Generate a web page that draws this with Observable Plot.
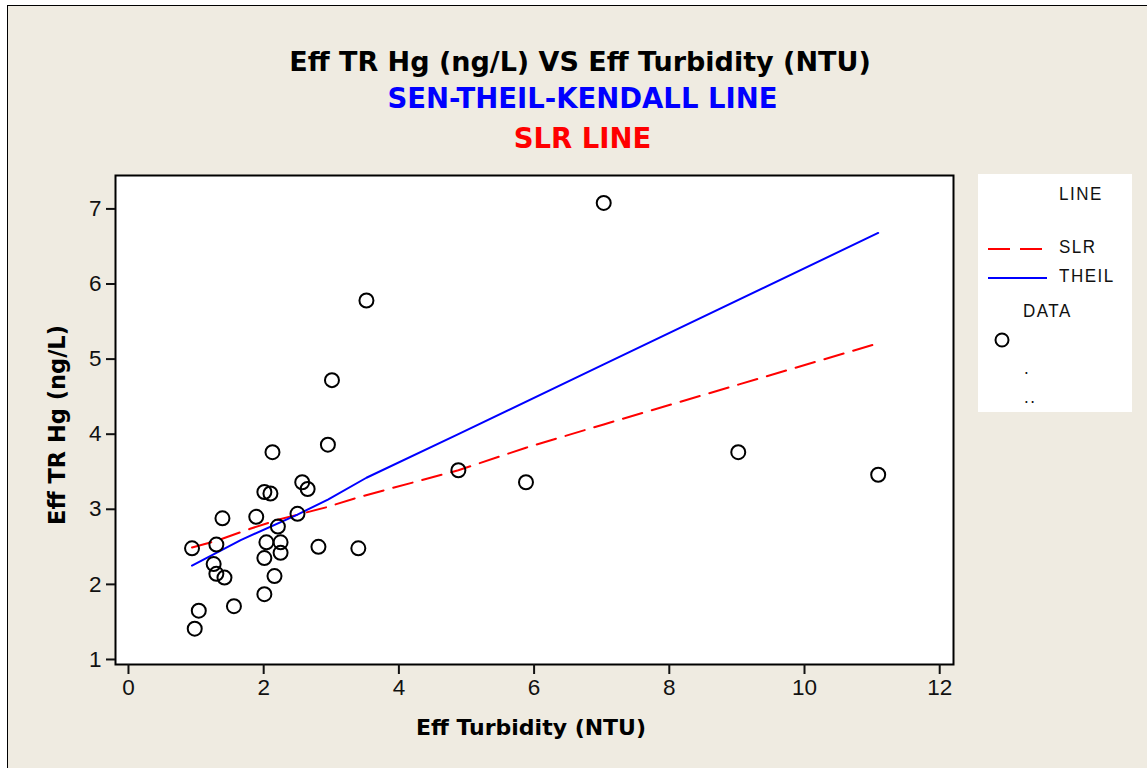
<!DOCTYPE html>
<html>
<head>
<meta charset="utf-8">
<script src="https://cdn.jsdelivr.net/npm/d3@7"></script>
<script src="https://cdn.jsdelivr.net/npm/@observablehq/plot@0.6"></script>
<style>
  html, body { margin: 0; padding: 0; background: #ffffff; }
  #wrap { position: relative; width: 1147px; height: 768px; overflow: hidden; }
  #bg { position: absolute; left: 7px; top: 5px; width: 1160px; height: 790px; background: #efebe1; border: 1.5px solid #000; }
  #chart { position: absolute; left: 0; top: 0; }
  #chart svg text { font-size: 22.5px; }
  .t { position: absolute; font-family: "DejaVu Sans", sans-serif; font-weight: bold; white-space: nowrap; text-align: center; line-height: 1; }
  #legend { position: absolute; left: 978px; top: 174px; width: 154px; height: 238px; background: #fff; font-family: "Liberation Sans", sans-serif; font-size: 17px; letter-spacing: 1.5px; color: #111; }
  #legend div { position: absolute; white-space: nowrap; transform: scaleY(1.1); transform-origin: left center; }
  #legend svg { position: absolute; overflow: visible; }
</style>
</head>
<body>
<div id="wrap">
  <div id="bg"></div>
  <div id="chart"></div>
  <div class="t" id="t1" style="left:0;width:1160px;top:48px;font-size:27px;color:#000;">Eff TR Hg (ng/L) VS Eff Turbidity (NTU)</div>
  <div class="t" id="t2" style="left:0;width:1165px;top:85px;font-size:27.5px;color:#0000ff;">SEN-THEIL-KENDALL LINE</div>
  <div class="t" id="t3" style="left:0;width:1165px;top:125px;font-size:27.5px;color:#ff0000;">SLR LINE</div>
  <div class="t" id="xl" style="left:0;width:1062px;top:717px;font-size:22px;color:#000;">Eff Turbidity (NTU)</div>
  <div class="t" id="yl" style="left:57px;top:425px;font-size:22.5px;color:#000;transform:translate(-50%,-50%) rotate(-90deg);">Eff TR Hg (ng/L)</div>
  <div id="legend"></div>
</div>
<script>
// Data points (Eff Turbidity NTU, Eff TR Hg ng/L)
const turbidity = [2.13, 2.95, 2.57, 2.65, 2.01, 2.10, 1.39, 1.89, 2.50, 2.21, 0.94, 1.30, 2.04, 2.25, 2.25, 2.81, 3.40, 2.01, 1.26, 1.30, 1.42, 2.16, 2.01, 1.56, 1.04, 0.98, 3.52, 3.01, 4.88, 5.88, 7.03, 9.02, 11.09];
const hg        = [3.76, 3.86, 3.36, 3.27, 3.23, 3.21, 2.88, 2.90, 2.94, 2.77, 2.48, 2.53, 2.56, 2.56, 2.42, 2.50, 2.48, 2.35, 2.27, 2.14, 2.09, 2.11, 1.87, 1.71, 1.65, 1.41, 5.78, 4.72, 3.52, 3.36, 7.08, 3.76, 3.46];

// Fitted lines as drawn
const theilX = [0.94, 1.66, 2.50, 2.95, 3.52, 4.88, 7.03, 11.09];
const theilY = [2.25, 2.59, 2.93, 3.13, 3.42, 4.00, 4.93, 6.68];
const slrX   = [0.94, 1.30, 1.80, 2.21, 2.94, 3.40, 4.88, 5.88, 7.03, 9.02, 11.09];
const slrY   = [2.49, 2.58, 2.74, 2.86, 3.03, 3.16, 3.52, 3.82, 4.13, 4.66, 5.21];

const xTicks = [0, 2, 4, 6, 8, 10, 12];
const yTicks = [1, 2, 3, 4, 5, 6, 7];

const points = turbidity.map((x, i) => ({x, y: hg[i]}));
const theil = theilX.map((x, i) => ({x, y: theilY[i]}));
const slr = slrX.map((x, i) => ({x, y: slrY[i]}));

const chart = Plot.plot({
  width: 1147,
  height: 768,
  marginLeft: 115,
  marginRight: 194,
  marginTop: 175,
  marginBottom: 104,
  style: {background: "transparent", fontFamily: "Liberation Sans, sans-serif", fontSize: "22.5px", color: "#111"},
  x: {domain: [-0.192, 12.204]},
  y: {domain: [0.933, 7.445]},
  marks: [
    Plot.frame({fill: "white", stroke: "none"}),
    Plot.line(slr, {x: "x", y: "y", stroke: "#ff0000", strokeWidth: 2, strokeDasharray: "20,10"}),
    Plot.line(theil, {x: "x", y: "y", stroke: "#0000ff", strokeWidth: 2}),
    Plot.dot(points, {x: "x", y: "y", r: 7, stroke: "#000", strokeWidth: 2, fill: "none"}),
    Plot.frame({stroke: "#000", strokeWidth: 2}),
    Plot.axisX({ticks: xTicks, tickSize: 10, tickPadding: 5, tickFormat: d => d, label: null, strokeWidth: 2}),
    Plot.axisY({ticks: yTicks, tickSize: 9, tickPadding: 5, tickFormat: d => d, label: null, strokeWidth: 2})
  ]
});
document.getElementById("chart").appendChild(chart);

// Legend
const legendItems = [
  {kind: "head", text: "LINE", x: 81, y: 21},
  {kind: "line", text: "SLR", x: 81, y: 74, color: "#ff0000", dash: "22,10"},
  {kind: "line", text: "THEIL", x: 81, y: 103, color: "#0000ff", dash: null},
  {kind: "head", text: "DATA", x: 45, y: 138},
  {kind: "dot", text: "", x: 0, y: 166},
  {kind: "head", text: ".", x: 46, y: 195},
  {kind: "head", text: "..", x: 46, y: 224}
];
const lg = document.getElementById("legend");
const ns = "http://www.w3.org/2000/svg";
for (const it of legendItems) {
  if (it.text) {
    const d = document.createElement("div");
    d.textContent = it.text;
    d.style.left = it.x + "px";
    d.style.top = (it.y - 11) + "px";
    lg.appendChild(d);
  }
  if (it.kind === "line") {
    const s = document.createElementNS(ns, "svg");
    s.setAttribute("width", 60); s.setAttribute("height", 4);
    s.style.left = "10px"; s.style.top = (it.y - 1) + "px";
    const l = document.createElementNS(ns, "line");
    l.setAttribute("x1", 0); l.setAttribute("x2", it.dash ? 54 : 59);
    l.setAttribute("y1", 2); l.setAttribute("y2", 2);
    l.setAttribute("stroke", it.color); l.setAttribute("stroke-width", 2);
    if (it.dash) l.setAttribute("stroke-dasharray", it.dash);
    s.appendChild(l); lg.appendChild(s);
  }
  if (it.kind === "dot") {
    const s = document.createElementNS(ns, "svg");
    s.setAttribute("width", 20); s.setAttribute("height", 20);
    s.style.left = "14px"; s.style.top = (it.y - 10) + "px";
    const c = document.createElementNS(ns, "circle");
    c.setAttribute("cx", 10); c.setAttribute("cy", 10); c.setAttribute("r", 6.5);
    c.setAttribute("fill", "none"); c.setAttribute("stroke", "#000"); c.setAttribute("stroke-width", 2);
    s.appendChild(c); lg.appendChild(s);
  }
}
</script>
</body>
</html>
